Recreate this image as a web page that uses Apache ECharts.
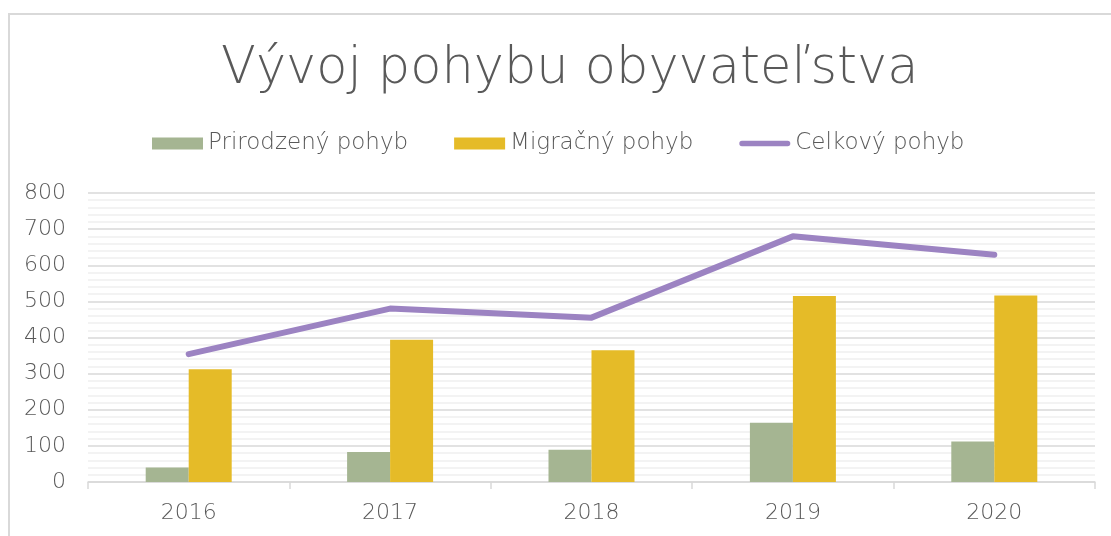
<!DOCTYPE html>
<html>
<head>
<meta charset="utf-8">
<script src="https://cdn.jsdelivr.net/npm/echarts@6/dist/echarts.min.js"></script>
<style>
  html, body { margin: 0; padding: 0; background: #fff; }
  #chart { width: 1111px; height: 536px; }
</style>
</head>
<body>
<div id="chart"></div>
<script>
const years = ['2016', '2017', '2018', '2019', '2020'];
const natural = [40, 83, 89, 164, 112];
const migration = [312, 394, 365, 515, 516];
const total = [354, 480, 455, 680, 629];

const textColor = '#595959';
const font = 'DejaVu Sans';

const chart = echarts.init(document.getElementById('chart'));
chart.setOption({
  backgroundColor: '#fff',
  animation: false,
  textStyle: { fontFamily: font, color: textColor },
  graphic: [{
    type: 'rect',
    shape: { x: 9, y: 14, width: 1120, height: 540 },
    style: { fill: 'none', stroke: '#d9d9d9', lineWidth: 2 },
    silent: true
  }],
  title: {
    text: 'Vývoj pohybu obyvateľstva',
    left: 216,
    top: 39,
    textStyle: { fontFamily: font, fontSize: 51, fontWeight: 200, color: textColor }
  },
  legend: {
    left: 147,
    top: 127,
    itemWidth: 51,
    itemHeight: 12,
    itemGap: 46,
    textStyle: { fontFamily: font, fontSize: 23, fontWeight: 200, color: textColor },
    data: [
      { name: 'Prirodzený pohyb', icon: 'rect' },
      { name: 'Migračný pohyb', icon: 'rect' },
      {
        name: 'Celkový pohyb',
        icon: 'path://M3,0 L54,0 A3,3 0 0 1 54,6 L3,6 A3,3 0 0 1 3,0 Z',
        itemStyle: { color: '#9c83c2' }
      }
    ]
  },
  grid: { left: 88, right: 16, top: 193, bottom: 54 },
  xAxis: {
    type: 'category',
    data: years,
    axisLine: { lineStyle: { color: '#d9d9d9', width: 1.5 } },
    axisTick: { show: true, length: 7, lineStyle: { color: '#d9d9d9', width: 1.5 } },
    axisLabel: { fontFamily: font, fontSize: 22, fontWeight: 200, color: textColor, margin: 20 }
  },
  yAxis: {
    type: 'value',
    min: 0,
    max: 800,
    interval: 100,
    axisLine: { show: false },
    axisTick: { show: false },
    axisLabel: { fontFamily: font, fontSize: 22, fontWeight: 200, color: textColor, margin: 22 },
    splitLine: { lineStyle: { color: '#d9d9d9', width: 1.5 } },
    minorTick: { show: false, splitNumber: 5 },
    minorSplitLine: { show: true, lineStyle: { color: '#f0f0f0', width: 1.5 } }
  },
  series: [
    {
      name: 'Prirodzený pohyb',
      type: 'bar',
      data: natural,
      barWidth: 43,
      barGap: '0%',
      itemStyle: { color: '#a5b592' }
    },
    {
      name: 'Migračný pohyb',
      type: 'bar',
      data: migration,
      barWidth: 43,
      barGap: '0%',
      itemStyle: { color: '#e5bb28' }
    },
    {
      name: 'Celkový pohyb',
      type: 'line',
      data: total,
      symbol: 'none',
      z: 5,
      lineStyle: { color: '#9c83c2', width: 6, cap: 'round', join: 'round' },
      itemStyle: { color: '#9c83c2' }
    }
  ]
});
</script>
</body>
</html>
